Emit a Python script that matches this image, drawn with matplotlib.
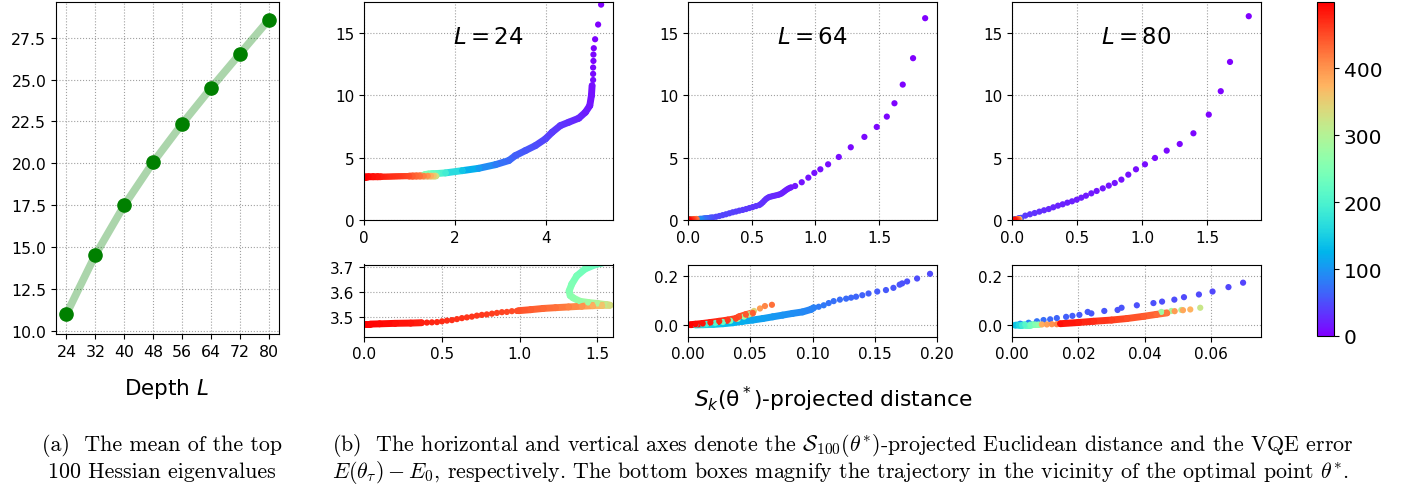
import numpy as np
import matplotlib
matplotlib.use('Agg')
import matplotlib.pyplot as plt
from matplotlib.collections import LineCollection
from matplotlib.colors import Normalize
from matplotlib.cm import ScalarMappable
from matplotlib.ticker import MultipleLocator

# ---- panel (a): mean of the top-100 Hessian eigenvalues
depth = [24, 32, 40, 48, 56, 64, 72, 80]
mean_eig = [11.0, 14.53, 17.5, 20.07, 22.36, 24.5, 26.55, 28.58]

# ---- panel (b): trajectories (x = projected distance, y = VQE error, it = iteration)
# L = 24
l24_dots_x = [5.209, 5.143, 5.077, 5.048, 5.040, 5.040, 5.033, 5.033, 5.033,
              0.982, 0.950, 0.918, 0.886, 0.854, 0.822, 0.789, 0.757, 0.725, 0.693,
              0.661, 0.629, 0.597, 0.565, 0.533, 0.501, 0.469, 0.436, 0.404]
l24_dots_y = [17.29, 15.69, 14.51, 13.79, 13.28, 12.77, 12.24, 11.73, 11.24,
              3.523, 3.522, 3.519, 3.518, 3.515, 3.512, 3.509, 3.507, 3.504, 3.500,
              3.497, 3.494, 3.490, 3.486, 3.484, 3.481, 3.478, 3.477, 3.476]
l24_dots_it = [0, 1, 2, 3, 4, 5, 6, 7, 8,
               450, 452, 454, 456, 458, 460, 461, 462, 463, 464,
               465, 466, 467, 468, 469, 470, 472, 474, 476]
l24_run1_x = [5.011, 4.996, 4.960, 4.864, 4.718, 4.499, 4.315, 4.132, 3.985, 3.765,
              3.545, 3.325, 3.180, 2.886, 2.521, 2.154, 1.787, 1.600, 1.528, 1.485,
              1.420, 1.367, 1.335, 1.318, 1.325, 1.343, 1.386, 1.440, 1.500, 1.560,
              1.580, 1.530, 1.470, 1.400, 1.314, 1.230, 1.151, 1.070, 0.993]
l24_run1_y = [10.79, 9.99, 9.18, 8.65, 8.17, 7.85, 7.58, 7.04, 6.51, 5.97,
              5.57, 5.17, 4.77, 4.44, 4.15, 3.96, 3.78, 3.73, 3.716, 3.709,
              3.692, 3.664, 3.631, 3.603, 3.585, 3.576, 3.562, 3.557, 3.553, 3.548,
              3.546, 3.545, 3.544, 3.542, 3.539, 3.536, 3.533, 3.528, 3.524]
l24_run1_it = [10, 12, 15, 19, 24, 30, 34, 38, 43, 50,
               56, 62, 68, 80, 105, 140, 190, 215, 225, 230,
               236, 242, 248, 254, 258, 262, 270, 280, 295, 315,
               330, 360, 380, 400, 415, 425, 432, 440, 448]
l24_run2_x = [0.370, 0.300, 0.200, 0.100, 0.040, 0.008]
l24_run2_y = [3.4755, 3.474, 3.473, 3.471, 3.470, 3.470]
l24_run2_it = [478, 484, 489, 494, 497, 499]

# L = 64
l64_dots_x = [1.862, 1.767, 1.686, 1.621, 1.561, 1.482, 1.385, 1.278, 1.184, 1.100,
              1.039, 0.992, 0.945, 0.893, 0.841,
              0.809, 0.796, 0.783, 0.770, 0.757, 0.744, 0.731, 0.717, 0.704, 0.687,
              0.670, 0.655, 0.639, 0.626, 0.613, 0.600, 0.587, 0.574, 0.560, 0.534,
              0.508, 0.482, 0.456, 0.430, 0.403, 0.377, 0.351, 0.325, 0.298, 0.272,
              0.246, 0.220,
              0.1944, 0.184, 0.176, 0.172, 0.170, 0.165, 0.159, 0.152, 0.145, 0.140,
              0.135, 0.131, 0.127, 0.122, 0.117, 0.113, 0.109, 0.105,
              0.015, 0.022, 0.028, 0.034, 0.040, 0.045, 0.049, 0.052, 0.053,
              0.0578, 0.0618, 0.0674]
l64_dots_y = [16.2, 12.99, 10.87, 9.37, 8.30, 7.47, 6.67, 5.84, 5.06, 4.47,
              4.07, 3.78, 3.40, 3.03, 2.73,
              2.62, 2.56, 2.49, 2.40, 2.30, 2.20, 2.11, 2.05, 2.01, 1.97,
              1.93, 1.89, 1.85, 1.78, 1.69, 1.56, 1.42, 1.30, 1.20, 1.12,
              1.04, 0.96, 0.88, 0.81, 0.75, 0.68, 0.62, 0.54, 0.46, 0.39,
              0.32, 0.26,
              0.207, 0.188, 0.176, 0.168, 0.163, 0.150, 0.141, 0.135, 0.127, 0.120,
              0.114, 0.110, 0.106, 0.102, 0.096, 0.088, 0.079, 0.073,
              0.003, 0.007, 0.011, 0.016, 0.024, 0.033, 0.042, 0.050, 0.056,
              0.066, 0.076, 0.081]
l64_dots_it = [0, 1, 2, 3, 4, 5, 6, 7, 8, 9,
               10, 11, 12, 13, 14,
               15, 16, 17, 18, 19, 20, 21, 22, 23, 24,
               25, 26, 27, 28, 29, 30, 31, 32, 33, 34,
               35, 36, 37, 38, 39, 40, 41, 42, 43, 44,
               45, 46,
               47, 49, 51, 52, 53, 55, 57, 59, 61, 63,
               65, 67, 69, 71, 73, 75, 78, 81,
               195, 210, 225, 240, 260, 280, 300, 320, 345,
               395, 410, 425]
l64_run1_x = [0.101, 0.0987, 0.092, 0.084, 0.076, 0.068, 0.060, 0.052, 0.044, 0.036,
              0.028, 0.020, 0.012, 0.006]
l64_run1_y = [0.069, 0.062, 0.052, 0.046, 0.039, 0.032, 0.025, 0.019, 0.014, 0.008,
              0.004, 0.001, 0.000, -0.001]
l64_run1_it = [84, 87, 91, 95, 99, 103, 108, 113, 119, 126,
               134, 150, 160, 170]
l64_run2_x = [0.052, 0.0465, 0.041, 0.0385, 0.032, 0.0251, 0.018, 0.0118, 0.006, 0.002]
l64_run2_y = [0.048, 0.041, 0.032, 0.025, 0.019, 0.014, 0.009, 0.005, 0.002, 0.000]
l64_run2_it = [438, 444, 450, 455, 462, 470, 478, 486, 493, 499]

# L = 80
l80_dots_x = [1.818, 1.674, 1.603, 1.511, 1.393, 1.288, 1.188, 1.098, 1.021, 0.952,
              0.893, 0.840, 0.789, 0.743, 0.697, 0.650, 0.609, 0.568, 0.532, 0.497,
              0.461, 0.425, 0.389, 0.353, 0.317, 0.282, 0.246, 0.210, 0.174, 0.138,
              0.102,
              0.0696, 0.0652, 0.0604, 0.0563, 0.0518, 0.0489, 0.0452, 0.0426, 0.0376,
              0.0330, 0.0318, 0.0278, 0.0239, 0.0228, 0.0203, 0.0182, 0.0163, 0.0135,
              0.0115, 0.0095, 0.0075, 0.0050, 0.0025,
              0.045, 0.048, 0.051, 0.0567,
              0.0090, 0.0105, 0.0120, 0.0135,
              0.0537, 0.0515, 0.049]
l80_dots_y = [16.36, 12.69, 10.34, 8.46, 6.96, 6.10, 5.57, 4.98, 4.47, 4.07,
              3.64, 3.24, 2.97, 2.76, 2.54, 2.33, 2.14, 1.95, 1.79, 1.63,
              1.50, 1.39, 1.26, 1.15, 1.02, 0.88, 0.78, 0.67, 0.56, 0.46,
              0.35,
              0.171, 0.153, 0.135, 0.123, 0.112, 0.102, 0.094, 0.088, 0.079,
              0.069, 0.060, 0.056, 0.046, 0.052, 0.040, 0.036, 0.032, 0.027,
              0.022, 0.019, 0.014, 0.008, 0.004,
              0.052, 0.056, 0.060, 0.069,
              0.001, 0.001, 0.002, 0.002,
              0.062, 0.059, 0.055]
l80_dots_it = [0, 1, 2, 3, 4, 5, 6, 7, 8, 9,
               10, 11, 12, 13, 14, 15, 16, 17, 18, 19,
               20, 21, 22, 23, 24, 26, 28, 30, 32, 35,
               38,
               44, 45, 46, 47, 48, 49, 50, 51, 52,
               53, 54, 55, 56, 57, 58, 60, 62, 65,
               68, 72, 76, 82, 90,
               280, 290, 300, 320,
               380, 390, 400, 410,
               375, 385, 395]
l80_run1_x = [0.0010, 0.0020, 0.0030, 0.0040, 0.0055, 0.0070, 0.0080]
l80_run1_y = [-0.002, -0.001, -0.001, 0.000, 0.000, 0.001, 0.001]
l80_run1_it = [140, 160, 185, 210, 235, 255, 265]
l80_run2_x = [0.0467, 0.0435, 0.0396, 0.0346, 0.030, 0.0246, 0.020, 0.0145]
l80_run2_y = [0.048, 0.042, 0.034, 0.025, 0.019, 0.014, 0.009, 0.004]
l80_run2_it = [420, 430, 440, 450, 460, 470, 480, 490]

W, H = 1419, 489
norm = Normalize(0, 499)
cmap = plt.get_cmap('rainbow')


def box(l, t, r, b):
    return [l / W, 1 - b / H, (r - l) / W, (b - t) / H]


def draw(ax, dots, runs):
    xs, ys, its = list(dots[0]), list(dots[1]), list(dots[2])
    for rx, ry, rit in runs:
        pts = np.column_stack([rx, ry])
        segs = np.stack([pts[:-1], pts[1:]], axis=1)
        rit = np.asarray(rit, float)
        lc = LineCollection(segs, cmap=cmap, norm=norm, linewidths=5,
                            capstyle='round', zorder=2)
        lc.set_array((rit[:-1] + rit[1:]) / 2)
        ax.add_collection(lc)
        xs += list(rx); ys += list(ry); its += list(rit)
    order = np.argsort(its, kind='stable')
    ax.scatter(np.array(xs)[order], np.array(ys)[order], c=np.array(its)[order],
               cmap=cmap, norm=norm, s=20, lw=0, zorder=2.5)


def style(ax, size=11):
    ax.grid(True, ls=':', color='#a0a0a0', lw=0.8)
    ax.set_axisbelow(True)
    ax.tick_params(labelsize=size)


fig = plt.figure(figsize=(W / 100, H / 100), dpi=100)

# (a)
ax = fig.add_axes(box(56, 3, 279, 335))
ax.plot(depth, mean_eig, '-', color='green', alpha=0.33, lw=5.5)
ax.plot(depth, mean_eig, 'o', color='green', ms=9.5)
ax.set_xticks(depth)
ax.yaxis.set_major_locator(MultipleLocator(2.5))
ax.set_xlim(21.1, 82.8)
ax.set_ylim(9.8, 29.64)
style(ax, 11.3)

cols = [
    (364, 613, 'L=24', (l24_dots_x, l24_dots_y, l24_dots_it),
     [(l24_run1_x, l24_run1_y, l24_run1_it), (l24_run2_x, l24_run2_y, l24_run2_it)],
     5.47, 2, (0, 1.6), 0.5, (3.42, 3.71), 0.1),
    (688, 937, 'L=64', (l64_dots_x, l64_dots_y, l64_dots_it),
     [(l64_run1_x, l64_run1_y, l64_run1_it), (l64_run2_x, l64_run2_y, l64_run2_it)],
     1.955, 0.5, (0, 0.2), 0.05, (-0.048, 0.245), 0.2),
    (1012, 1261, 'L=80', (l80_dots_x, l80_dots_y, l80_dots_it),
     [(l80_run1_x, l80_run1_y, l80_run1_it), (l80_run2_x, l80_run2_y, l80_run2_it)],
     1.912, 0.5, (0, 0.075), 0.02, (-0.048, 0.245), 0.2),
]
for l, r, lab, dots, runs, xmax, xstep, bxl, bxs, byl, bys in cols:
    top = fig.add_axes(box(l, 3, r, 221))
    draw(top, dots, runs)
    top.set_xlim(0, xmax)
    top.set_ylim(0, 17.5)
    top.xaxis.set_major_locator(MultipleLocator(xstep))
    top.yaxis.set_major_locator(MultipleLocator(5))
    style(top)
    top.text(0.5, 0.84, '$' + lab + '$', transform=top.transAxes,
             ha='center', va='center', fontsize=16.5)

    bot = fig.add_axes(box(l, 265.5, r, 337.5))
    draw(bot, dots, runs)
    bot.set_xlim(*bxl)
    bot.set_ylim(*byl)
    bot.xaxis.set_major_locator(MultipleLocator(bxs))
    bot.yaxis.set_major_locator(MultipleLocator(bys))
    style(bot)

cax = fig.add_axes(box(1317, 3, 1334, 337))
cb = fig.colorbar(ScalarMappable(norm=norm, cmap=cmap), cax=cax,
                  ticks=[0, 100, 200, 300, 400])
cb.ax.tick_params(labelsize=14.5)

fig.text(167 / W, 1 - 389 / H, 'Depth $L$', ha='center', va='center', fontsize=15.5)
fig.text(833 / W, 1 - 399 / H, r'$S_k$(θ$^*$)-projected distance',
         ha='center', va='center', fontsize=15.7)

cap = dict(fontfamily='cmr10', math_fontfamily='cm', fontsize=15.8, va='center')
fig.text(162 / W, 1 - 446 / H, '(a)  The mean of the top', ha='center', **cap)
fig.text(162 / W, 1 - 472 / H, '100 Hessian eigenvalues', ha='center', **cap)
fig.text(332 / W, 1 - 446 / H,
         r'(b)  The horizontal and vertical axes denote the $\mathcal{S}_{100}(\theta^{*})$'
         '-projected Euclidean distance and the VQE error', ha='left', **cap)
fig.text(332 / W, 1 - 472 / H,
         r'$E(\theta_\tau) - E_0$, respectively. The bottom boxes magnify the trajectory '
         r'in the vicinity of the optimal point $\theta^{*}$.', ha='left', **cap)

fig.savefig('out.png', dpi=100)
